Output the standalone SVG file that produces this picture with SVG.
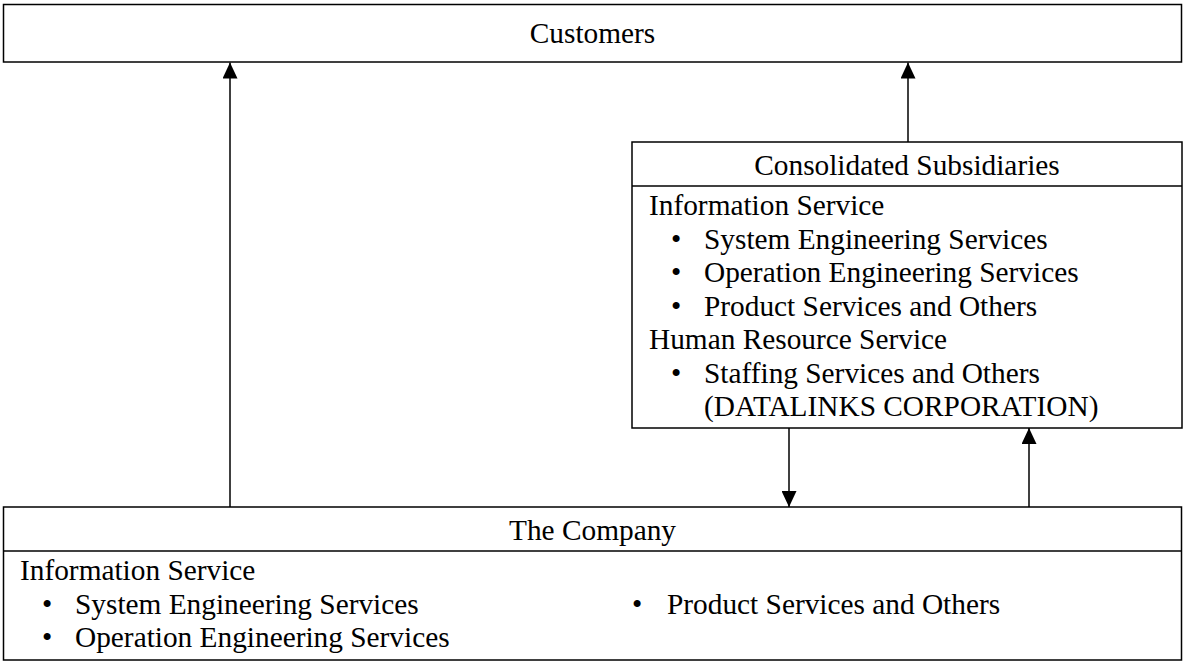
<svg xmlns="http://www.w3.org/2000/svg" width="1184" height="662" viewBox="0 0 1184 662">
  <style>
    .box { fill: #fff; stroke: #000; stroke-width: 1.5; }
    .div { stroke: #000; stroke-width: 1.5; }
    .t { font-family: "Liberation Serif", "Times New Roman", serif; font-size: 29.33px; fill: #000; }
    .c { text-anchor: middle; }
    .conn { stroke: #000; stroke-width: 1.5; fill: none; }
  </style>
  <defs>
    <marker id="ah" viewBox="0 0 16 15" refX="16" refY="7.5" markerWidth="16" markerHeight="15" markerUnits="userSpaceOnUse" orient="auto">
      <path d="M0,0 L16,7.5 L0,15 Z" fill="#000"/>
    </marker>
  </defs>

  <g id="customers">
    <rect class="box" x="3.5" y="4.5" width="1178" height="57.5"/>
    <text class="t c" x="592.5" y="43">Customers</text>
  </g>

  <g id="consolidated">
    <rect class="box" x="632" y="142" width="550" height="286"/>
    <line class="div" x1="632" y1="186" x2="1182" y2="186"/>
    <text class="t c" x="907" y="175">Consolidated Subsidiaries</text>
    <text class="t" x="649" y="215">Information Service</text>
    <text class="t" x="671" y="248.5">•</text>
    <text class="t" x="704" y="248.5">System Engineering Services</text>
    <text class="t" x="671" y="282">•</text>
    <text class="t" x="704" y="282">Operation Engineering Services</text>
    <text class="t" x="671" y="315.5">•</text>
    <text class="t" x="704" y="315.5">Product Services and Others</text>
    <text class="t" x="649" y="349">Human Resource Service</text>
    <text class="t" x="671" y="382.5">•</text>
    <text class="t" x="704" y="382.5">Staffing Services and Others</text>
    <text class="t" x="704" y="416">(DATALINKS CORPORATION)</text>
  </g>

  <g id="company">
    <rect class="box" x="3.5" y="507" width="1178" height="153"/>
    <line class="div" x1="3.5" y1="551" x2="1181.5" y2="551"/>
    <text class="t c" x="592.5" y="540">The Company</text>
    <text class="t" x="20" y="580">Information Service</text>
    <text class="t" x="42" y="613.5">•</text>
    <text class="t" x="75" y="613.5">System Engineering Services</text>
    <text class="t" x="42" y="647">•</text>
    <text class="t" x="75" y="647">Operation Engineering Services</text>
    <text class="t" x="632" y="613.5">•</text>
    <text class="t" x="667" y="613.5">Product Services and Others</text>
  </g>

  <g id="connectors">
    <line class="conn" x1="230" y1="507" x2="230" y2="62.5" marker-end="url(#ah)"/>
    <line class="conn" x1="908" y1="142" x2="908" y2="62.5" marker-end="url(#ah)"/>
    <line class="conn" x1="789" y1="428" x2="789" y2="507" marker-end="url(#ah)"/>
    <line class="conn" x1="1029" y1="507" x2="1029" y2="428" marker-end="url(#ah)"/>
  </g>
</svg>
